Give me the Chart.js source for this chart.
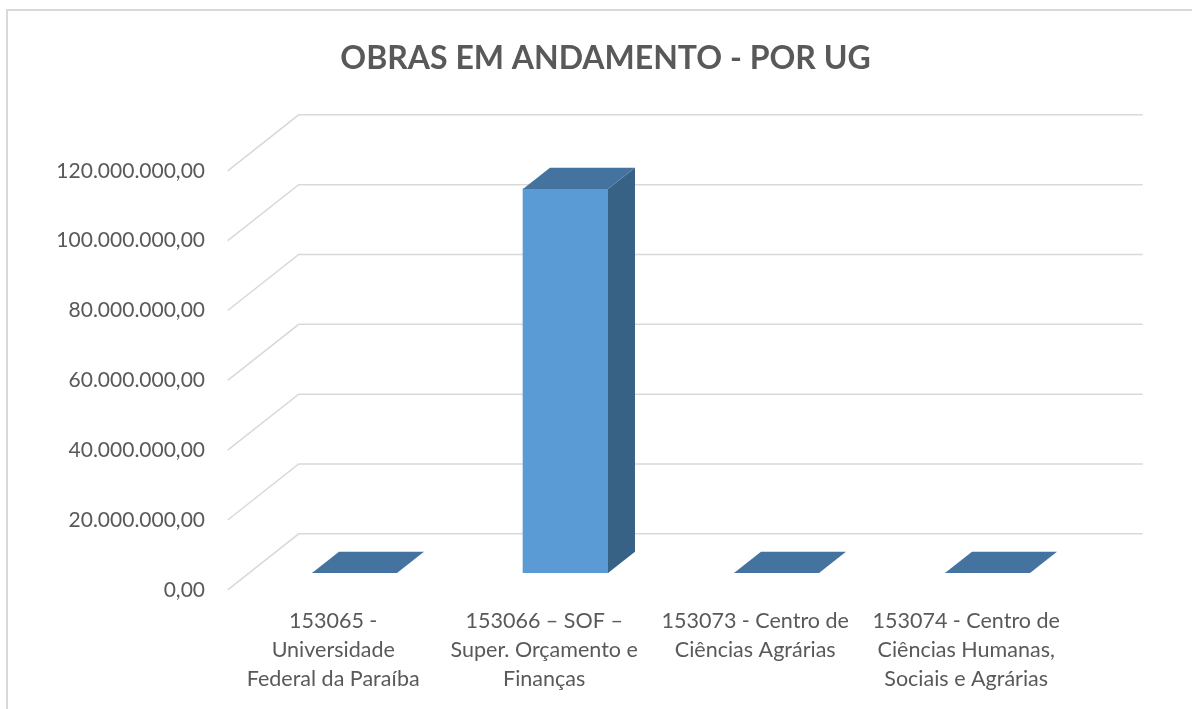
<!DOCTYPE html>
<html>
<head>
<meta charset="utf-8">
<script src="https://cdn.jsdelivr.net/npm/chart.js@4"></script>
<style>
  html, body { margin: 0; padding: 0; background: #ffffff; }
  #wrap { width: 1192px; height: 709px; }
</style>
</head>
<body>
<div id="wrap"><canvas id="c" width="1192" height="709"></canvas></div>
<script>
// ---- data ----
const chartTitle = 'OBRAS EM ANDAMENTO - POR UG';
const categories = [
  ['153065 -', 'Universidade', 'Federal da Paraíba'],
  ['153066 – SOF –', 'Super. Orçamento e', 'Finanças'],
  ['153073 - Centro de', 'Ciências Agrárias'],
  ['153074 - Centro de', 'Ciências Humanas,', 'Sociais e Agrárias']
];
const values = [0, 110000000, 0, 0];
const tickValues = [0, 20000000, 40000000, 60000000, 80000000, 100000000, 120000000];
const tickLabels = ['0,00', '20.000.000,00', '40.000.000,00', '60.000.000,00', '80.000.000,00', '100.000.000,00', '120.000.000,00'];

// ---- 3D look ----
const DEPTH_DX = 71, DEPTH_DY = -56;   // full floor depth vector (front -> back wall)
const BAR_FRONT_T = 0.30;              // bar front face depth fraction
const BAR_BACK_T = 0.68;               // bar back face depth fraction
const TEXT = '#595959';
const GRID = '#d9d9d9';

const threeD = {
  id: 'threeD',
  beforeDraw(chart) {
    const ctx = chart.ctx;
    ctx.save();
    ctx.fillStyle = '#ffffff';
    ctx.fillRect(0, 0, chart.width, chart.height);
    ctx.strokeStyle = GRID;
    ctx.lineWidth = 2;
    ctx.beginPath();
    ctx.moveTo(7, chart.height);
    ctx.lineTo(7, 10);
    ctx.lineTo(chart.width, 10);
    ctx.stroke();
    ctx.restore();
  },
  beforeDatasetsDraw(chart) {
    const ctx = chart.ctx, ys = chart.scales.y, area = chart.chartArea;
    const fx = -BAR_FRONT_T * DEPTH_DX, fy = -BAR_FRONT_T * DEPTH_DY;
    const bx = (1 - BAR_FRONT_T) * DEPTH_DX, by = (1 - BAR_FRONT_T) * DEPTH_DY;
    ctx.save();
    ctx.strokeStyle = GRID;
    ctx.lineWidth = 1.5;
    ys.ticks.forEach(t => {
      const y = ys.getPixelForValue(t.value);
      ctx.beginPath();
      ctx.moveTo(area.left + fx, y + fy);
      ctx.lineTo(area.left + bx, y + by);
      ctx.lineTo(area.right + bx, y + by);
      ctx.stroke();
    });
    ctx.restore();
  },
  afterDatasetsDraw(chart) {
    const ctx = chart.ctx;
    const meta = chart.getDatasetMeta(0);
    const dx = (BAR_BACK_T - BAR_FRONT_T) * DEPTH_DX;
    const dy = (BAR_BACK_T - BAR_FRONT_T) * DEPTH_DY;
    ctx.save();
    meta.data.forEach(bar => {
      const p = bar.getProps(['x', 'y', 'base', 'width'], true);
      const l = p.x - p.width / 2, r = p.x + p.width / 2, top = p.y, base = p.base;
      if (base - top > 0.5) {
        ctx.fillStyle = '#386186';
        ctx.beginPath();
        ctx.moveTo(r, top);
        ctx.lineTo(r + dx, top + dy);
        ctx.lineTo(r + dx, base + dy);
        ctx.lineTo(r, base);
        ctx.closePath();
        ctx.fill();
      }
      ctx.fillStyle = '#44739f';
      ctx.beginPath();
      ctx.moveTo(l, top);
      ctx.lineTo(r, top);
      ctx.lineTo(r + dx, top + dy);
      ctx.lineTo(l + dx, top + dy);
      ctx.closePath();
      ctx.fill();
    });
    ctx.restore();
  }
};

new Chart(document.getElementById('c'), {
  type: 'bar',
  data: {
    labels: categories,
    datasets: [{
      data: values,
      backgroundColor: '#5b9bd5',
      borderWidth: 0,
      barThickness: 85,
      yAxisID: 'y'
    }]
  },
  options: {
    responsive: false,
    animation: false,
    devicePixelRatio: 1,
    layout: { padding: { left: 40, right: 21, top: 0, bottom: 0 } },
    plugins: {
      legend: { display: false },
      tooltip: { enabled: false },
      title: {
        display: true,
        text: chartTitle,
        color: TEXT,
        font: { family: 'Lato', size: 32, weight: 'bold', lineHeight: 1.2 },
        padding: { top: 39, bottom: 76.6 }
      }
    },
    scales: {
      x: {
        grid: { display: false, drawTicks: false },
        border: { display: false },
        ticks: {
          color: TEXT,
          font: { family: 'Lato', size: 21.5, lineHeight: 29 / 21.5 },
          padding: 34,
          labelOffset: -BAR_FRONT_T * DEPTH_DX,
          maxRotation: 0,
          minRotation: 0,
          autoSkip: false
        },
        afterFit(s) { s.height = 136; }
      },
      y: {
        position: 'left',
        min: 0,
        max: 120000000,
        grid: { display: false, drawTicks: false },
        border: { display: false },
        ticks: {
          stepSize: 20000000,
          color: TEXT,
          font: { family: 'Lato', size: 21 },
          padding: 44,
          labelOffset: -BAR_FRONT_T * DEPTH_DY,
          callback: (v) => { const i = tickValues.indexOf(v); return i >= 0 ? tickLabels[i] : ''; }
        },
        afterFit(s) { s.width = 209; }
      },
      yRight: {
        type: 'linear',
        position: 'right',
        display: true,
        grid: { display: false, drawTicks: false },
        border: { display: false },
        ticks: { display: false },
        afterFit(s) { s.width = 78; }
      }
    }
  },
  plugins: [threeD]
});
</script>
</body>
</html>
